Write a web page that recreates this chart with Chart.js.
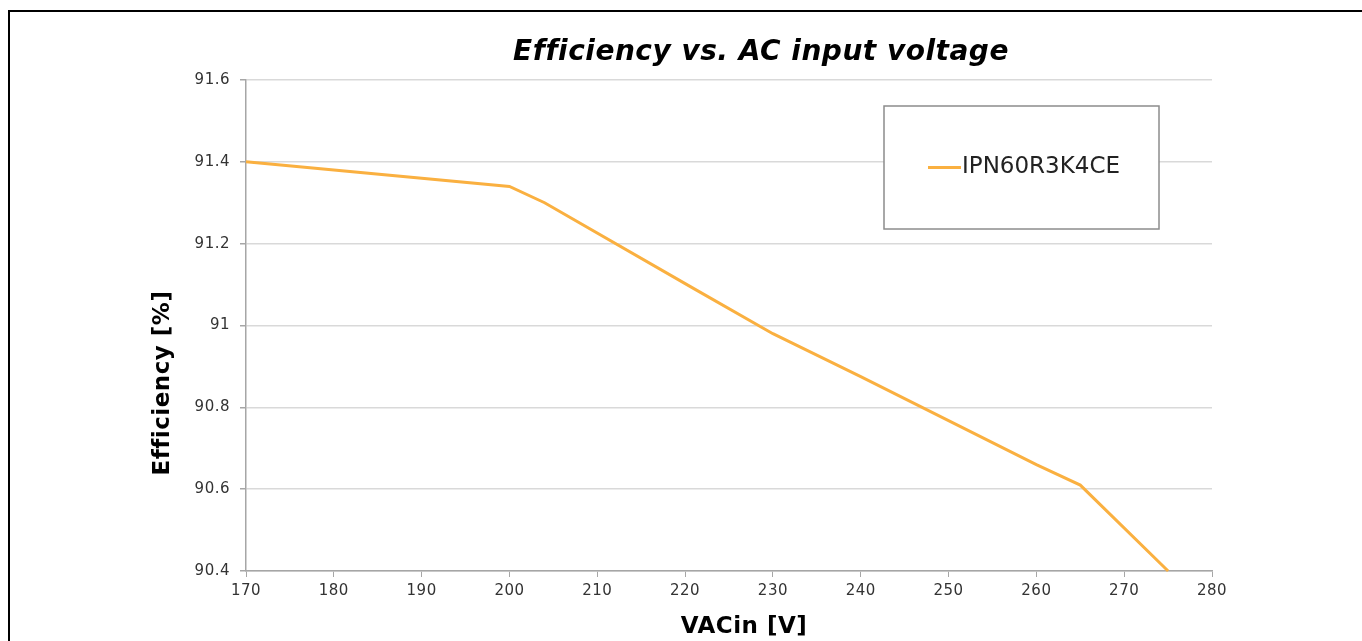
<!DOCTYPE html>
<html>
<head>
<meta charset="utf-8">
<title>Efficiency vs. AC input voltage</title>
<script src="https://cdn.jsdelivr.net/npm/chart.js@4/dist/chart.umd.min.js"></script>
<style>
    body { margin: 0; background: #fff; }
    #wrap { position: relative; width: 1362px; height: 641px; }
    #frame {
        position: absolute; left: 8px; top: 10px; right: 0; bottom: 0;
        border-left: 2px solid #000; border-top: 2px solid #000;
        pointer-events: none;
    }
</style>
</head>
<body>
<div id="wrap">
    <canvas id="effChart"></canvas>
    <div id="frame"></div>
</div>
<script>
/* ============================================================
   DATA
   ============================================================ */
const titleText = "Efficiency vs. AC input voltage";
const seriesName = "IPN60R3K4CE";
const voltage = [170, 200, 204, 221, 230, 240, 260, 265, 275];
const efficiency = [91.40, 91.34, 91.30, 91.09, 90.98, 90.875, 90.66, 90.61, 90.40];
const xTitle = "VACin [V]";
const yTitle = "Efficiency [%]";

const lineColor = "#FAB040";
const fontFamily = "'DejaVu Sans', Verdana, sans-serif";

/* ============================================================
   PLUGINS: titles + boxed legend inside the plot
   ============================================================ */
// small letter spacing everywhere (also stops the "ffi" ligature)
const spacing = {
    id: "spacing",
    beforeDraw(chart) {
        chart.ctx.letterSpacing = "0.5px";
    }
};

const titlesPlugin = {
    id: "titles",
    afterDraw(chart) {
        const ctx = chart.ctx;
        ctx.save();
        ctx.letterSpacing = "0.5px";
        ctx.fillStyle = "#000";
        ctx.textAlign = "center";
        ctx.textBaseline = "middle";

        // main title
        ctx.font = "italic bold 28px " + fontFamily;
        ctx.fillText(titleText, 761, 53);

        // x axis title
        ctx.font = "bold 23px " + fontFamily;
        ctx.fillText(xTitle, 744, 627);

        // y axis title (rotated)
        ctx.translate(163, 383);
        ctx.rotate(-Math.PI / 2);
        ctx.fillText(yTitle, 0, 0);
        ctx.restore();
    }
};

const boxLegend = {
    id: "boxLegend",
    afterDatasetsDraw(chart) {
        const ctx = chart.ctx;
        const area = chart.chartArea;
        const ds = chart.data.datasets[0];
        const x = area.left + 638, y = area.top + 26, w = 275, h = 123;

        ctx.save();
        ctx.letterSpacing = "0px";
        ctx.fillStyle = "#fff";
        ctx.fillRect(x, y, w, h);
        ctx.strokeStyle = "#8c8c8c";
        ctx.lineWidth = 1.5;
        ctx.strokeRect(x, y, w, h);

        const midY = y + h / 2;
        ctx.strokeStyle = ds.borderColor;
        ctx.lineWidth = 3;
        ctx.beginPath();
        ctx.moveTo(x + 44, midY);
        ctx.lineTo(x + 77, midY);
        ctx.stroke();

        ctx.font = "23px " + fontFamily;
        ctx.fillStyle = "#222";
        ctx.textAlign = "left";
        ctx.textBaseline = "middle";
        ctx.fillText(ds.label, x + 78, midY);
        ctx.restore();
    }
};

/* ============================================================
   CHART
   ============================================================ */
const points = voltage.map((v, i) => ({ x: v, y: efficiency[i] }));

new Chart(document.getElementById("effChart"), {
    type: "line",
    data: {
        datasets: [{
            label: seriesName,
            data: points,
            borderColor: lineColor,
            backgroundColor: lineColor,
            borderWidth: 3,
            pointRadius: 0,
            tension: 0,
            clip: 4
        }]
    },
    options: {
        responsive: true,
        maintainAspectRatio: false,
        animation: false,
        layout: { padding: { left: 130, right: 150, top: 80, bottom: 0 } },
        plugins: {
            legend: { display: false },
            title: { display: false },
            tooltip: { enabled: false }
        },
        scales: {
            x: {
                type: "linear",
                min: 170,
                max: 280,
                afterFit: s => { s.height = 70; },
                ticks: {
                    stepSize: 10,
                    color: "#333",
                    padding: 5,
                    font: { family: fontFamily, size: 15 }
                },
                grid: {
                    drawOnChartArea: false,
                    tickLength: 6,
                    tickColor: "#a6a6a6"
                },
                border: { color: "#a6a6a6", width: 1.5 },
                title: { display: false }
            },
            y: {
                min: 90.4,
                max: 91.6,
                afterFit: s => { s.width = 116; },
                ticks: {
                    stepSize: 0.2,
                    color: "#333",
                    padding: 10,
                    font: { family: fontFamily, size: 15 },
                    callback: v => String(Number(v.toFixed(1)))
                },
                grid: {
                    color: "#d9d9d9",
                    lineWidth: 1.5,
                    tickLength: 6,
                    tickColor: "#a6a6a6"
                },
                border: { color: "#a6a6a6", width: 1.5 },
                title: { display: false }
            }
        }
    },
    plugins: [spacing, titlesPlugin, boxLegend]
});
</script>
</body>
</html>
